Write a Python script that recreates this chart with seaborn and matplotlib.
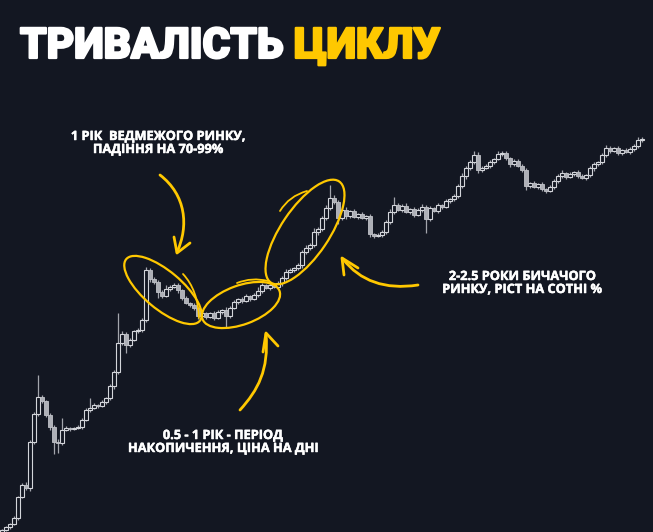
import pandas as pd
import matplotlib
matplotlib.use("Agg")
import matplotlib.pyplot as plt
import matplotlib.patheffects as pe
import seaborn as sns
from matplotlib.patches import Ellipse, PathPatch
from matplotlib.path import Path

BG = "#131722"
YELLOW = "#FFC800"

# candle closes (price units, bottom of image = 0)
closes = [
    2, 5, 8, 14, 35, 47, 44, 90, 118, 135,
    131, 117, 105, 90, 89, 102, 104, 103, 104, 105,
    112, 122, 124, 127, 126, 130, 134, 146, 160, 189,
    198, 187, 192, 201, 202, 212, 262, 253, 250, 240,
    236, 243, 245, 247, 242, 234, 229, 227, 224, 216,
    219, 215, 219, 214, 220, 222, 216, 224, 230, 233,
    231, 236, 233, 237, 241, 247, 244, 247, 245, 249,
    254, 260, 262, 264, 267, 280, 284, 287, 300, 303,
    314, 324, 334, 330, 314, 322, 316, 321, 315, 318,
    314, 316, 298, 296, 297, 300, 310, 320, 327, 322,
    326, 320, 323, 317, 322, 325, 313, 324, 321, 327,
    325, 331, 333, 336, 346, 356, 364, 370, 377, 362,
    364, 366, 370, 373, 378, 379, 374, 368, 371, 366,
    362, 346, 349, 345, 348, 343, 341, 345, 351, 356,
    359, 355, 358, 360, 356, 354, 357, 364, 368, 370,
    377, 384, 381, 384, 379, 382, 380, 383, 386, 392,
    393,
]
first_open = 0

wick_hi = [
    1, 1, 1, 2, 1, 2, 3, 2, 2, 22,
    2, 1, 2, 2, 3, 12, 2, 1, 1, 2,
    2, 2, 10, 2, 1, 2, 1, 2, 2, 30,
    3, 2, 2, 1, 2, 2, 3, 2, 2, 2,
    2, 4, 2, 2, 2, 1, 2, 1, 2, 1,
    2, 1, 1, 2, 2, 1, 3, 2, 2, 1,
    2, 2, 1, 2, 4, 2, 1, 2, 1, 2,
    2, 3, 2, 1, 2, 2, 3, 2, 4, 2,
    2, 3, 13, 3, 2, 2, 3, 1, 2, 1,
    2, 1, 2, 1, 2, 2, 2, 3, 8, 2,
    2, 3, 1, 2, 2, 3, 2, 2, 1, 2,
    1, 2, 1, 2, 2, 3, 2, 2, 4, 3,
    2, 2, 2, 1, 3, 2, 2, 1, 2, 2,
    2, 2, 1, 2, 1, 2, 1, 2, 2, 2,
    3, 1, 2, 1, 2, 2, 1, 2, 2, 1,
    2, 3, 2, 1, 2, 1, 2, 2, 2, 3,
    2,
]

wick_lo = [
    1, 1, 2, 1, 2, 1, 2, 3, 2, 2,
    2, 2, 3, 12, 10, 2, 1, 2, 1, 1,
    2, 1, 2, 1, 2, 1, 2, 2, 3, 2,
    2, 8, 2, 1, 2, 2, 2, 3, 2, 6,
    2, 1, 2, 1, 3, 2, 1, 2, 2, 3,
    1, 2, 1, 2, 1, 2, 11, 2, 1, 2,
    2, 1, 2, 1, 2, 2, 1, 2, 1, 2,
    3, 2, 1, 2, 2, 3, 2, 2, 2, 3,
    2, 2, 2, 2, 6, 2, 3, 2, 1, 2,
    1, 2, 3, 2, 1, 2, 2, 2, 2, 1,
    2, 1, 2, 2, 1, 2, 14, 2, 1, 2,
    2, 1, 2, 2, 2, 2, 3, 2, 2, 3,
    2, 1, 2, 2, 1, 2, 2, 3, 2, 1,
    2, 4, 2, 1, 2, 2, 2, 1, 2, 2,
    2, 2, 1, 2, 2, 1, 2, 2, 3, 2,
    2, 2, 2, 1, 2, 2, 1, 2, 2, 2,
    2,
]

title_white = "ТРИВАЛІСТЬ"
title_yellow = "ЦИКЛУ"
notes = [
    "1 РІК  ВЕДМЕЖОГО РИНКУ,\nПАДІННЯ НА 70-99%",
    "0.5 - 1 РІК - ПЕРІОД\nНАКОПИЧЕННЯ, ЦІНА НА ДНІ",
    "2-2.5 РОКИ БИЧАЧОГО\nРИНКУ, РІСТ НА СОТНІ %",
]

sns.set_theme(style="dark", rc={"axes.facecolor": BG, "figure.facecolor": BG})

df = pd.DataFrame({"close": closes, "wick_hi": wick_hi, "wick_lo": wick_lo})
df["open"] = df["close"].shift(1).fillna(first_open)
df["top"] = df[["open", "close"]].max(axis=1)
df["bottom"] = df[["open", "close"]].min(axis=1)
df["high"] = df["top"] + df["wick_hi"]
df["low"] = df["bottom"] - df["wick_lo"]
df["body"] = (df["top"] - df["bottom"]).clip(lower=1.0)
up = df["close"] >= df["open"]

fig = plt.figure(figsize=(6.53, 5.32), dpi=100)
ax = fig.add_axes([0, 0, 1, 1])
ax.vlines(df.index, df["low"], df["high"], color="#a3a6ad", lw=0.9, zorder=1)
ax.bar(df.index[up], df["body"][up], bottom=df["bottom"][up], width=0.78,
       color=BG, edgecolor="#d3d5da", linewidth=0.8, zorder=2)
ax.bar(df.index[~up], df["body"][~up], bottom=df["bottom"][~up], width=0.78,
       color="#aeb0b7", edgecolor="#c0c2c8", linewidth=0.6, zorder=2)
ax.set_xlim(-0.5, 162.75)
ax.set_ylim(0, 532)
ax.axis("off")

# overlay in pixel coordinates for the hand-drawn marks and text
ov = fig.add_axes([0, 0, 1, 1], facecolor="none")
ov.set_xlim(0, 653)
ov.set_ylim(532, 0)
ov.axis("off")

for (cx, cy, w, h, ang) in [(163, 290, 96, 38, 40), (241, 305, 82, 39, -20), (305, 232, 122, 48, -56)]:
    ov.add_patch(Ellipse((cx, cy), w, h, angle=ang, fill=False, ec=YELLOW, lw=1.6))

def curve(pts, lw):
    if len(pts) == 3:
        codes = [Path.MOVETO, Path.CURVE3, Path.CURVE3]
    else:
        codes = [Path.MOVETO, Path.CURVE4, Path.CURVE4, Path.CURVE4]
    ov.add_patch(PathPatch(Path(pts, codes), fill=False, ec=YELLOW, lw=lw, capstyle="round"))

# extra pen strokes on the ellipses
curve([(183, 274), (198, 290), (199, 318)], 1.3)
curve([(237, 283), (252, 277), (268, 281)], 1.3)
curve([(280, 211), (289, 196), (307, 191)], 1.3)

# arrows
curve([(160, 175), (186, 195), (189, 226), (177, 252)], 2.0)
ov.plot([174, 177, 190], [237, 253, 243], color=YELLOW, lw=2.0, solid_capstyle="round", solid_joinstyle="round")
curve([(240, 410), (258, 390), (269, 370), (266, 334)], 2.0)
ov.plot([263, 266, 278], [352, 333, 346], color=YELLOW, lw=2.0, solid_capstyle="round", solid_joinstyle="round")
curve([(418, 285), (385, 290), (360, 281), (343, 259)], 2.0)
ov.plot([344, 342, 358], [275, 258, 268], color=YELLOW, lw=2.0, solid_capstyle="round", solid_joinstyle="round")

# title
for x, txt, col in [(20, title_white, "white"), (294, title_yellow, YELLOW)]:
    ov.text(x, 58, txt, color=col, fontsize=30.5, fontweight="black",
            family=["Roboto", "DejaVu Sans"], va="baseline", ha="left",
            path_effects=[pe.withStroke(linewidth=1.6, foreground=col)])

# annotations (y is the baseline of the last line)
for (x, y), txt in zip([(158, 153), (223, 452), (522, 293)], notes):
    ov.text(x, y, txt, color="white", fontsize=9.2, fontweight="bold",
            family=["Open Sans", "DejaVu Sans"], ha="center", va="baseline",
            multialignment="center", linespacing=1.0,
            path_effects=[pe.withStroke(linewidth=0.35, foreground="white")])

fig.savefig("out.png", dpi=100, facecolor=BG)
